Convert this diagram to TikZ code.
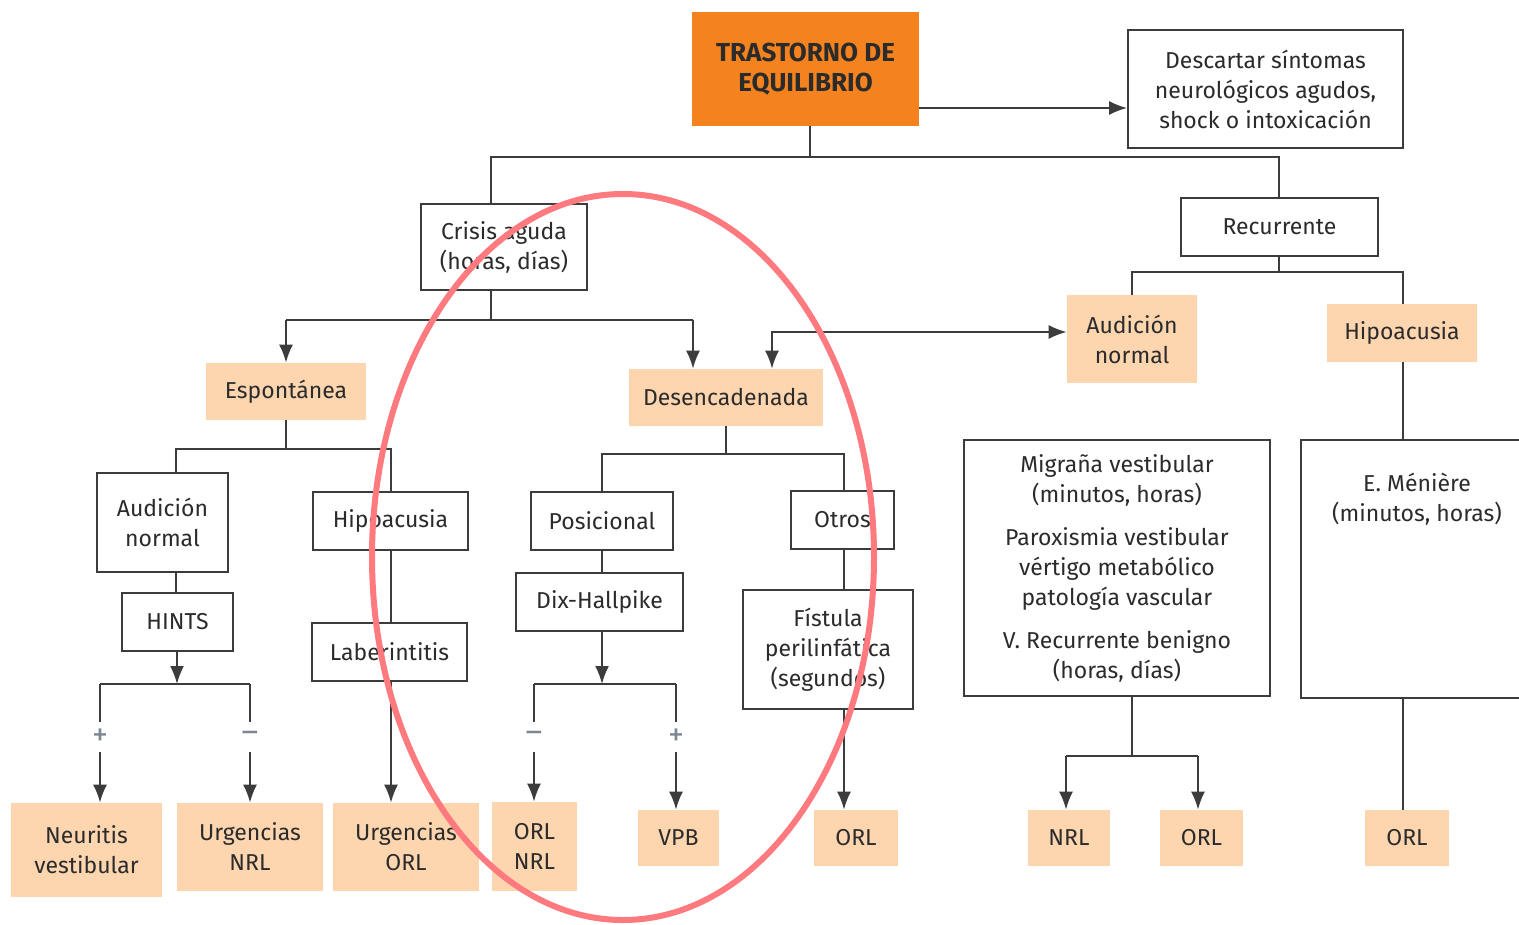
\documentclass[tikz,border=0pt]{standalone}
\usepackage{fontspec}
\setmainfont{Fira Sans}
\usetikzlibrary{arrows.meta}
\definecolor{orangec}{HTML}{F4831F}
\definecolor{peachc}{HTML}{FDD6B0}
\definecolor{linec}{HTML}{3C3C3C}
\definecolor{textc}{HTML}{2B2B2B}
\definecolor{redc}{HTML}{FF7A7E}
\definecolor{signc}{HTML}{7C8794}
\begin{document}
\begin{tikzpicture}[x=0.5pt,y=-0.5pt,
  every node/.style={font=\fontsize{11.5}{15}\selectfont, text=textc, align=center, inner sep=0pt},
  box/.style={draw=linec, line width=0.9pt, fill=white},
  peach/.style={fill=peachc},
  titlebox/.style={fill=orangec, font=\fontsize{13}{15}\selectfont\bfseries},
  conn/.style={draw=linec, line width=0.9pt},
  arr/.style={conn, -{Latex[length=9pt,width=7pt]}},
  arrtwo/.style={conn, {Latex[length=9pt,width=7pt]}-{Latex[length=9pt,width=7pt]}},
  sign/.style={text=signc, font=\fontsize{16}{15}\selectfont, minimum height=15pt, minimum width=8pt}
]
\useasboundingbox (0,0) rectangle (1519,925);
\fill[white] (0,0) rectangle (1519,925);

% nodes
\node[titlebox, minimum width=113.5pt, minimum height=57pt] (title) at (805.5,69) {TRASTORNO DE\\EQUILIBRIO};
\node[box, minimum width=137.5pt, minimum height=59pt] (desc) at (1265.5,89) {Descartar síntomas\\neurológicos agudos,\\shock o intoxicación};
\node[box, minimum width=83pt, minimum height=43pt] (crisis) at (504,247) {Crisis aguda\\(horas, días)};
\node[box, minimum width=98.5pt, minimum height=29pt] (recur) at (1279.5,227) {Recurrente};
\node[peach, minimum width=80pt, minimum height=28.5pt] (espont) at (286,391.5) {Espontánea};
\node[peach, minimum width=97pt, minimum height=28.5pt] (desenc) at (726,397.5) {Desencadenada};
\node[peach, minimum width=65pt, minimum height=44pt] (audR) at (1132,339) {Audición\\normal};
\node[peach, minimum width=75pt, minimum height=29pt] (hipoR) at (1402,333) {Hipoacusia};
\node[box, minimum width=71pt, minimum height=29pt] (posic) at (602,521) {Posicional};
\node[box, minimum width=51.5pt, minimum height=29pt] (otros) at (842.5,520) {Otros};
\node[box, minimum width=83.5pt, minimum height=29pt] (dix) at (599.5,602) {Dix-Hallpike};
\node[box, minimum width=85pt, minimum height=59.5pt] (fist) at (828,649.5) {Fístula\\perilinfática\\(segundos)};
\node[box, minimum width=65.5pt, minimum height=49.5pt] (audL) at (162.5,522.5) {Audición\\normal};
\node[box, minimum width=55.5pt, minimum height=29pt] (hints) at (177.5,622) {HINTS};
\node[box, minimum width=77.5pt, minimum height=29pt] (hipoL) at (390.5,521) {Hipoacusia};
\node[box, minimum width=77.5pt, minimum height=29pt] (laber) at (389.5,652) {Laberintitis};
\node[peach, minimum width=75.5pt, minimum height=47pt] (neur) at (86.5,850) {Neuritis\\vestibular};
\node[peach, minimum width=73pt, minimum height=44pt] (urgN) at (250,847) {Urgencias\\NRL};
\node[peach, minimum width=73pt, minimum height=44pt] (urgO) at (406,847) {Urgencias\\ORL};
\node[peach, minimum width=42.5pt, minimum height=44.5pt] (orlnrl) at (534.5,846.5) {ORL\\NRL};
\node[peach, minimum width=40.5pt, minimum height=28pt] (vpb) at (678.5,838) {VPB};
\node[peach, minimum width=42pt, minimum height=28pt] (orlA) at (856,838) {ORL};
\node[box, minimum width=153pt, minimum height=128pt] (migr) at (1117,568) {Migraña vestibular\\(minutos, horas)\\[6.5pt]Paroxismia vestibular\\vértigo metabólico\\patología vascular\\[6.5pt]V. Recurrente benigno\\(horas, días)};
\node[box, minimum width=114.5pt, minimum height=129pt] (menie) at (1415.5,569) {};
\node (menieT) at (1417,499) {E. Ménière\\(minutos, horas)};
\node[peach, minimum width=41pt, minimum height=28pt] (nrlB) at (1069,838) {NRL};
\node[peach, minimum width=41.5pt, minimum height=28pt] (orlB) at (1201.5,838) {ORL};
\node[peach, minimum width=42pt, minimum height=28pt] (orlC) at (1407,838) {ORL};

% junction coordinates
\coordinate (j1) at (810,157);
\coordinate (ja) at (491,157);
\coordinate (jb) at (1279,157);
\coordinate (jd) at (919,108);
\coordinate (jc) at (491,320);
\coordinate (jc1) at (286,320);
\coordinate (jc2) at (693,320);
\coordinate (jr) at (1279,272);
\coordinate (jr1) at (1132,272);
\coordinate (jr2) at (1403,272);
\coordinate (jx) at (772,332);
\coordinate (jd0) at (726,454);
\coordinate (jd1) at (602,454);
\coordinate (jd2) at (844,454);
\coordinate (jdx) at (602,684);
\coordinate (jm) at (534,684);
\coordinate (jp) at (676,684);
\coordinate (je0) at (286,449);
\coordinate (je1) at (176,449);
\coordinate (je2) at (391,449);
\coordinate (jh) at (177,684);
\coordinate (jh1) at (100,684);
\coordinate (jh2) at (250,684);
\coordinate (jg) at (1132,756);
\coordinate (jg1) at (1066,756);
\coordinate (jg2) at (1198,756);

% sign labels
\node[sign] (s1) at (100,737) {+};
\node[sign] (s2) at (250,737) {–};
\node[sign] (s3) at (534,737) {–};
\node[sign] (s4) at (676,737) {+};

% connectors
\draw[conn] (title.south -| j1) -- (j1);
\draw[conn] (crisis.north -| ja) -- (ja) -- (jb) -- (recur.north -| jb);
\draw[arr] (title.east |- jd) -- (desc.west |- jd);
\draw[conn] (crisis.south -| jc) -- (jc);
\draw[conn] (jc1) -- (jc2);
\draw[arr] (jc1) -- (espont.north -| jc1);
\draw[arr] (jc2) -- (desenc.north -| jc2);
\draw[conn] (recur.south -| jr) -- (jr);
\draw[conn] (audR.north -| jr1) -- (jr1) -- (jr2) -- (hipoR.north -| jr2);
\draw[arrtwo] (desenc.north -| jx) -- (jx) -- (audR.west |- jx);
\draw[conn] (hipoR.south -| jr2) -- (menie.north -| jr2);
\draw[conn] (desenc.south -| jd0) -- (jd0);
\draw[conn] (posic.north -| jd1) -- (jd1) -- (jd2) -- (otros.north -| jd2);
\draw[conn] (posic.south -| jd1) -- (dix.north -| jd1);
\draw[conn] (otros.south -| jd2) -- (fist.north -| jd2);
\draw[arr] (fist.south -| jd2) -- (orlA.north -| jd2);
\draw[arr] (dix.south -| jdx) -- (jdx);
\draw[conn] (jm) -- (jp);
\draw[conn] (jm) -- (s3.north);
\draw[arr] (s3.south) -- (orlnrl.north -| jm);
\draw[conn] (jp) -- (s4.north);
\draw[arr] (s4.south) -- (vpb.north -| jp);
\draw[conn] (espont.south -| je0) -- (je0);
\draw[conn] (audL.north -| je1) -- (je1) -- (je2) -- (hipoL.north -| je2);
\draw[conn] (audL.south -| je1) -- (hints.north -| je1);
\draw[arr] (hints.south -| jh) -- (jh);
\draw[conn] (jh1) -- (jh2);
\draw[conn] (jh1) -- (s1.north);
\draw[arr] (s1.south) -- (neur.north -| jh1);
\draw[conn] (jh2) -- (s2.north);
\draw[arr] (s2.south) -- (urgN.north -| jh2);
\draw[conn] (hipoL.south -| je2) -- (laber.north -| je2);
\draw[arr] (laber.south -| je2) -- (urgO.north -| je2);
\draw[conn] (migr.south -| jg) -- (jg);
\draw[conn] (jg1) -- (jg2);
\draw[arr] (jg1) -- (nrlB.north -| jg1);
\draw[arr] (jg2) -- (orlB.north -| jg2);
\draw[conn] (menie.south -| jr2) -- (orlC.north -| jr2);

% red ellipse
\draw[redc, line width=3pt] (623,557) ellipse [x radius=251, y radius=363];
\end{tikzpicture}
\end{document}
